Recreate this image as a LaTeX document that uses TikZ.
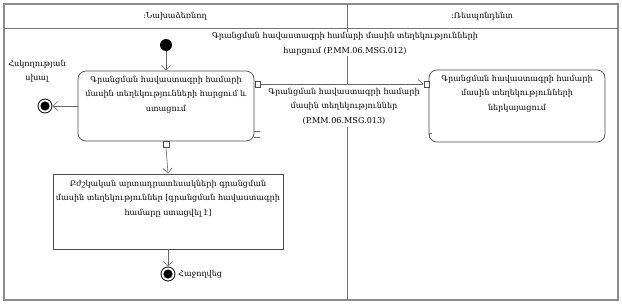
\documentclass[tikz,border=0pt]{standalone}
\usepackage{fontspec}
\setmainfont{DejaVu Serif}
\usetikzlibrary{arrows.meta}
\begin{document}
\begin{tikzpicture}[x=1pt,y=-1pt,
  txt/.style={font=\fontsize{8.1}{14.5}\selectfont, align=center, inner sep=1pt, text=black},
  act/.style={draw=black!70, rounded corners=8pt, line width=0.7pt, fill=white, inner sep=0pt},
  conn/.style={draw=black!60, line width=0.6pt, -{Straight Barb[length=5pt,width=9pt]}},
  pinbox/.style={draw=black!70, fill=white, minimum size=5.5pt, inner sep=0pt, line width=0.5pt},
  finalnode/.style={circle, draw=black, line width=0.8pt, minimum size=14pt, inner sep=0pt, fill=white,
     path picture={\fill[black] (path picture bounding box.center) circle (4.6pt);}}]
\useasboundingbox (0,0) rectangle (622,303);
% frame and lanes
\draw[black!45, line width=1.4pt] (4,4) rectangle (618,300);
\draw[black!55, line width=0.6pt] (4,28) -- (618,28);
\draw[black!55, line width=0.6pt] (347,4) -- (347,300);
\node[txt] (laneL) at (175,16) {:Նախաձեռնող};
\node[txt] (laneR) at (482,16) {:Ռեսպոնդենտ};
% activities
\node[act, minimum width=176pt, minimum height=70pt] (actL) at (166,106) {};
\node[txt, anchor=north] (actLt) at (166,75) {Գրանցման հավաստագրի համարի\\մասին տեղեկությունների հարցում և\\ստացում};
\node[act, minimum width=176pt, minimum height=72pt] (actR) at (517,106) {};
\node[txt, anchor=north] (actRt) at (517,74) {Գրանցման հավաստագրի համարի\\մասին տեղեկությունների\\ներկայացում};
\node[draw=black!70, line width=0.7pt, fill=white, minimum width=230pt, minimum height=75pt, inner sep=0pt] (boxB) at (168,211.5) {};
\node[txt, anchor=north] (boxBt) at (168,179) {Բժշկական արտադրատեսակների գրանցման\\մասին տեղեկություններ [գրանցման հավաստագրի\\համարը ստացվել է]};
% initial and finals
\node[circle, fill=black, minimum size=12pt, inner sep=0pt] (init) at (166,45) {};
\node[finalnode] (finE) at (45,106) {};
\node[finalnode] (finS) at (168,274) {};
\node[txt] (finEt) at (37,71) {Հսկողության\\սխալ};
\node[txt, anchor=west] (finSt) at (177,274) {Հաջողվեց};
% pins
\node[pinbox] (pinR) at (257.5,84) {};
\node[pinbox] (pinB) at (166,144) {};
\node[pinbox] (pinRR) at (426.5,84) {};
\draw[black!60, line width=0.5pt] (254,131) -- (260,131) (254,137) -- (260,137);
\draw[black!60, line width=0.5pt] (432,133) -- (429,133) -- (429,138);
% connectors
\draw[conn] (init) -- (actL.north);
\draw[conn] (actL.west) -- (finE.east);
\draw[conn] (pinR.east) -- (pinRR.west);
\draw[conn] (pinB.south) -- (boxB.north);
\draw[conn] (boxB.south) -- (finS.north);
% message labels
\node[txt, fill=white] (msg1) at (345,44) {Գրանցման հավաստագրի համարի մասին տեղեկությունների\\հարցում (P.MM.06.MSG.012)};
\node[txt, fill=white, inner sep=3pt] (msg2) at (344,106) {Գրանցման հավաստագրի համարի\\մասին տեղեկություններ\\(P.MM.06.MSG.013)};
\end{tikzpicture}
\end{document}
